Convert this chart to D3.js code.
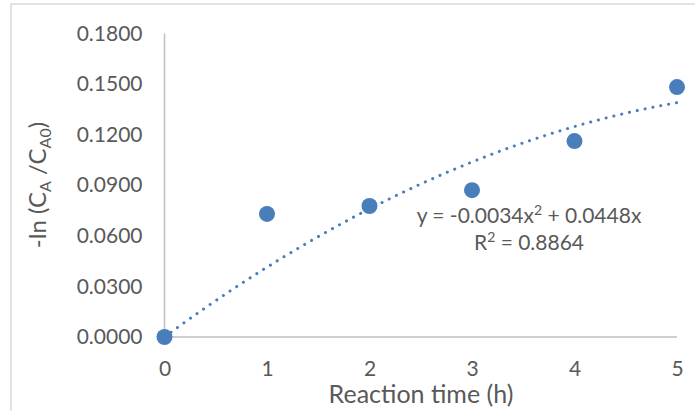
<!DOCTYPE html>
<html><head><meta charset="utf-8">
<script src="https://cdn.jsdelivr.net/npm/d3@7"></script>
<style>body{margin:0;background:#fff}svg{display:block}text{font-family:Lato,"Open Sans",sans-serif}</style>
</head><body>
<svg id="c" width="695" height="411"></svg>
<script>
const times = [0, 1, 2, 3, 4, 5];
const values = [0.0000, 0.0730, 0.0777, 0.0871, 0.1162, 0.1482];
const yTicks = [0, 0.03, 0.06, 0.09, 0.12, 0.15, 0.18];
const xTicks = [0, 1, 2, 3, 4, 5];
const trendCoef = {a: -0.0034, b: 0.0448};

const svg = d3.select("#c");
const x = d3.scaleLinear().domain([0, 5]).range([164.5, 677]);
const y = d3.scaleLinear().domain([0, 0.18]).range([337, 33.5]);
const grey = "#595959";

// chart border
svg.append("rect").attr("x", 11).attr("y", 4).attr("width", 700).attr("height", 420)
  .attr("fill", "none").attr("stroke", "#d9d9d9").attr("stroke-width", 1.5);

// axes
const xAxis = svg.append("g").attr("transform", `translate(0,${y(0)})`)
  .call(d3.axisBottom(x).tickValues(xTicks).tickSize(0).tickPadding(24).tickFormat(d3.format("d")));
const yAxis = svg.append("g").attr("transform", `translate(${x(0)},0)`)
  .call(d3.axisLeft(y).tickValues(yTicks).tickSize(0).tickPadding(22).tickFormat(d3.format(".4f")));
[xAxis, yAxis].forEach(g => {
  g.select(".domain").attr("stroke", "#bfbfbf").attr("stroke-width", 1.5);
  g.selectAll("text").attr("fill", grey).style("font-size", "21px").style("font-family", "Lato, 'Open Sans', sans-serif");
});
xAxis.select(".domain").attr("d", `M${x(0)},0H${x(5)}`);
yAxis.select(".domain").attr("d", `M0,${y(0.18)}V${y(0)}`);

// trendline
const tx = d3.range(0, 5.0001, 0.05);
const line = d3.line().x(d => x(d)).y(d => y(trendCoef.a * d * d + trendCoef.b * d));
svg.append("path").datum(tx).attr("d", line).attr("fill", "none")
  .attr("stroke", "#4a7ebb").attr("stroke-width", 3).attr("stroke-linecap", "round")
  .attr("stroke-dasharray", "0.1 7.9");

// points
svg.selectAll("circle.pt").data(times).join("circle").attr("class", "pt")
  .attr("cx", d => x(d)).attr("cy", (d, i) => y(values[i])).attr("r", 8)
  .attr("fill", "#4a7ebb");

// equation
const eq = svg.append("text").attr("x", 529).attr("y", 223).attr("text-anchor", "middle")
  .attr("fill", grey).style("font-size", "21px");
eq.append("tspan").text("y = -0.0034x");
eq.append("tspan").attr("dy", -8).style("font-size", "14px").text("2");
eq.append("tspan").attr("dy", 8).text(" + 0.0448x");
const r2 = svg.append("text").attr("x", 529).attr("y", 250).attr("text-anchor", "middle")
  .attr("fill", grey).style("font-size", "21px");
r2.append("tspan").text("R");
r2.append("tspan").attr("dy", -8).style("font-size", "14px").text("2");
r2.append("tspan").attr("dy", 8).text(" = 0.8864");

// axis titles
svg.append("text").attr("x", 421).attr("y", 403).attr("text-anchor", "middle")
  .attr("fill", grey).style("font-size", "25px").text("Reaction time (h)");
const yt = svg.append("text").attr("transform", "translate(46,185) rotate(-90)")
  .attr("text-anchor", "middle").attr("fill", grey).style("font-size", "24px");
yt.append("tspan").text("-ln (C");
yt.append("tspan").attr("dy", 5).style("font-size", "16px").text("A");
yt.append("tspan").attr("dy", -5).text(" /C");
yt.append("tspan").attr("dy", 5).style("font-size", "16px").text("A0");
yt.append("tspan").attr("dy", -5).text(")");
</script>
</body></html>
